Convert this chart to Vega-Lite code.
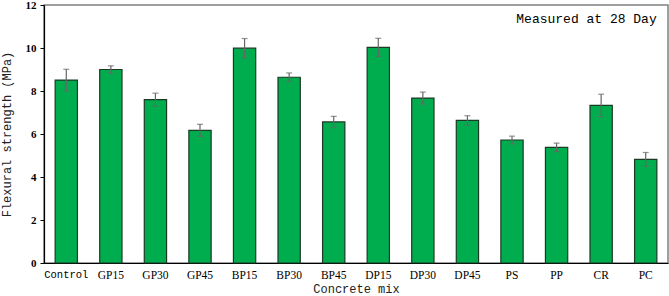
{
  "$schema": "https://vega.github.io/schema/vega-lite/v6.json",
  "width": 624,
  "height": 258,
  "autosize": {"type": "none"},
  "padding": {"left": 44, "top": 5, "right": 1, "bottom": 33},
  "background": "white",
  "config": {
    "view": {"stroke": "#808080", "strokeWidth": 1.5},
    "axis": {"grid": false}
  },
  "datasets": {
    "bars": [
      {"mix": "Control", "strength": 8.51, "err": 0.5},
      {"mix": "GP15", "strength": 9.0, "err": 0.17},
      {"mix": "GP30", "strength": 7.6, "err": 0.3},
      {"mix": "GP45", "strength": 6.17, "err": 0.28},
      {"mix": "BP15", "strength": 9.99, "err": 0.45},
      {"mix": "BP30", "strength": 8.64, "err": 0.2},
      {"mix": "BP45", "strength": 6.56, "err": 0.26},
      {"mix": "DP15", "strength": 10.03, "err": 0.42},
      {"mix": "DP30", "strength": 7.67, "err": 0.28},
      {"mix": "DP45", "strength": 6.63, "err": 0.22},
      {"mix": "PS", "strength": 5.72, "err": 0.18},
      {"mix": "PP", "strength": 5.38, "err": 0.2},
      {"mix": "CR", "strength": 7.33, "err": 0.52},
      {"mix": "PC", "strength": 4.82, "err": 0.32}
    ],
    "note": [{"mix": "PC", "y": 11.35, "label": "Measured at 28 Day"}]
  },
  "layer": [
    {
      "data": {"name": "bars"},
      "mark": {"type": "bar", "color": "#00AD4E", "stroke": "#1a3a24", "strokeWidth": 1.2},
      "encoding": {
        "x": {
          "field": "mix", "type": "nominal",
          "sort": ["Control", "GP15", "GP30", "GP45", "BP15", "BP30", "BP45", "DP15", "DP30", "DP45", "PS", "PP", "CR", "PC"],
          "scale": {"paddingInner": 0.5, "paddingOuter": 0.25},
          "title": "Concrete mix",
          "axis": {
            "labelAngle": 0, "ticks": false,
            "labelFont": {"condition": {"test": "datum.value == 'Control'", "value": "Liberation Mono"}, "value": "Liberation Serif"},
            "labelFontSize": {"condition": {"test": "datum.value == 'Control'", "value": 10.5}, "value": 11.5},
            "labelColor": "#000", "labelPadding": 6,
            "domainColor": "#000", "domainWidth": 1.2,
            "titleFont": "Liberation Mono", "titleFontSize": 12, "titleFontWeight": "normal",
            "titleColor": "#222", "titlePadding": 3
          }
        },
        "y": {
          "field": "strength", "type": "quantitative",
          "scale": {"domain": [0, 12], "nice": false},
          "title": "Flexural strength (MPa)",
          "axis": {
            "values": [0, 2, 4, 6, 8, 10, 12], "tickSize": 4, "tickColor": "#000",
            "labelFont": "Liberation Serif", "labelFontWeight": "bold", "labelFontSize": 11,
            "labelColor": "#000", "labelPadding": 4,
            "domainColor": "#000", "domainWidth": 1.2,
            "titleFont": "Liberation Mono", "titleFontSize": 12, "titleFontWeight": "normal",
            "titleColor": "#222", "titlePadding": 12
          }
        }
      }
    },
    {
      "data": {"name": "bars"},
      "mark": {"type": "errorbar", "ticks": {"size": 6, "color": "#666"}, "rule": {"color": "#666"}, "thickness": 1.2},
      "encoding": {
        "x": {"field": "mix", "type": "nominal", "sort": ["Control", "GP15", "GP30", "GP45", "BP15", "BP30", "BP45", "DP15", "DP30", "DP45", "PS", "PP", "CR", "PC"]},
        "y": {"field": "strength", "type": "quantitative", "title": "Flexural strength (MPa)"},
        "yError": {"field": "err"}
      }
    },
    {
      "data": {"name": "note"},
      "mark": {"type": "text", "align": "right", "baseline": "middle", "dx": 11, "font": "Liberation Mono", "fontSize": 13, "color": "#000"},
      "encoding": {
        "x": {"field": "mix", "type": "nominal", "sort": ["Control", "GP15", "GP30", "GP45", "BP15", "BP30", "BP45", "DP15", "DP30", "DP45", "PS", "PP", "CR", "PC"]},
        "y": {"field": "y", "type": "quantitative"},
        "text": {"field": "label"}
      }
    }
  ]
}
